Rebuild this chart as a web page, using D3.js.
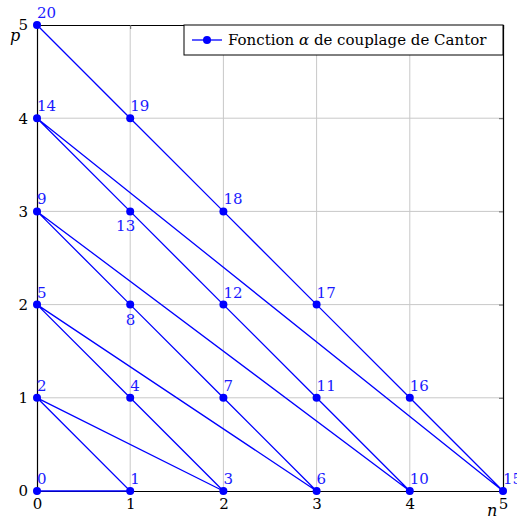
<!DOCTYPE html>
<html><head><meta charset="utf-8">
<script src="https://cdn.jsdelivr.net/npm/d3@7"></script>
<style>body{margin:0;background:#fff}text{font-family:"DejaVu Serif",serif}</style>
</head><body>
<script>
const nValues = [0,1,0,2,1,0,3,2,1,0,4,3,2,1,0,5,4,3,2,1,0];
const pValues = [0,0,1,0,1,2,0,1,2,3,0,1,2,3,4,0,1,2,3,4,5];
const labels = d3.range(21).map(String);
const belowLeft = ["8","13"];
const xTicks = [0,1,2,3,4,5];
const yTicks = [0,1,2,3,4,5];
const legendParts = ["Fonction ", "\u03b1", " de couplage de Cantor"];

const W=517,H=519;
const svg=d3.select("body").append("svg").attr("width",W).attr("height",H);
const x=d3.scaleLinear().domain([0,5]).range([37,503]);
const y=d3.scaleLinear().domain([0,5]).range([491,25]);
const fs=15;

// grid
svg.append("g").selectAll("line").data(xTicks.slice(1,-1)).join("line")
  .attr("x1",d=>x(d)).attr("x2",d=>x(d)).attr("y1",y(0)).attr("y2",y(5))
  .attr("stroke","#c8c8c8").attr("stroke-width",1);
svg.append("g").selectAll("line").data(yTicks.slice(1,-1)).join("line")
  .attr("y1",d=>y(d)).attr("y2",d=>y(d)).attr("x1",x(0)).attr("x2",x(5))
  .attr("stroke","#c8c8c8").attr("stroke-width",1);

// axes with inward ticks
const ax=svg.append("g").attr("transform",`translate(0,${y(0)})`)
  .call(d3.axisBottom(x).tickValues(xTicks).tickSize(-4).tickPadding(7).tickFormat(d3.format("d")));
const axT=svg.append("g").attr("transform",`translate(0,${y(5)})`)
  .call(d3.axisTop(x).tickValues(xTicks).tickSize(-4).tickFormat(""));
const ay=svg.append("g").attr("transform",`translate(${x(0)},0)`)
  .call(d3.axisLeft(y).tickValues(yTicks).tickSize(-4).tickPadding(9).tickFormat(d3.format("d")));
const ayR=svg.append("g").attr("transform",`translate(${x(5)},0)`)
  .call(d3.axisRight(y).tickValues(yTicks).tickSize(-4).tickFormat(""));
[ax,axT,ay,ayR].forEach(g=>{
  g.select(".domain").attr("stroke","#000").attr("stroke-width",1.2);
  g.selectAll(".tick line").attr("stroke","#666");
  g.selectAll("text").attr("fill","#000").style("font-size",fs+"px").style("font-family","DejaVu Serif");
});
ax.selectAll("text").attr("dy","0.75em");

// axis labels
svg.append("text").attr("x",487).attr("y",516).attr("font-style","italic").style("font-size","16px").text("n");
svg.append("text").attr("x",10).attr("y",41).attr("font-style","italic").style("font-size","16px").text("p");

// line and points
const pts=nValues.map((n,i)=>({n,p:pValues[i],lab:labels[i]}));
svg.append("path").datum(pts)
  .attr("d",d3.line().x(d=>x(d.n)).y(d=>y(d.p)))
  .attr("fill","none").attr("stroke","#0000ff").attr("stroke-width",1.3);
svg.append("g").selectAll("circle").data(pts).join("circle")
  .attr("cx",d=>x(d.n)).attr("cy",d=>y(d.p)).attr("r",4).attr("fill","#0000ff");
svg.append("g").selectAll("text").data(pts).join("text")
  .attr("x",d=>belowLeft.includes(d.lab)?x(d.n)+5:x(d.n))
  .attr("y",d=>belowLeft.includes(d.lab)?y(d.p)+20:y(d.p)-7)
  .attr("text-anchor",d=>belowLeft.includes(d.lab)?"end":"start")
  .attr("fill","#1a1aff").style("font-size",fs+"px").text(d=>d.lab);

// legend
const lg=svg.append("g");
lg.append("rect").attr("x",184).attr("y",y(5)).attr("width",x(5)-184).attr("height",30)
  .attr("fill","#fff").attr("stroke","#000").attr("stroke-width",1);
lg.append("line").attr("x1",192).attr("x2",222).attr("y1",40).attr("y2",40).attr("stroke","#0000ff").attr("stroke-width",1.3);
lg.append("circle").attr("cx",207).attr("cy",40).attr("r",4).attr("fill","#0000ff");
const lt=lg.append("text").attr("x",228).attr("y",45).style("font-size","15px").attr("fill","#000");
lt.selectAll("tspan").data(legendParts).join("tspan")
  .attr("font-style",(d,i)=>i===1?"italic":"normal").text(d=>d);
</script>
</body></html>
